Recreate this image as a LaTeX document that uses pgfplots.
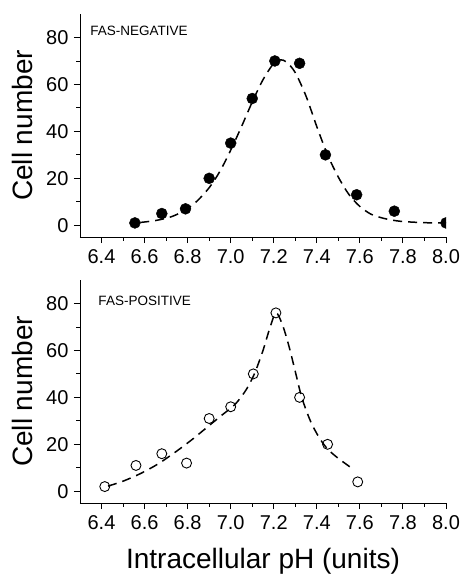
\documentclass[border=0pt]{standalone}
\usepackage{fontspec}
\setmainfont{Liberation Sans}
\usepackage{pgfplots}
\pgfplotsset{compat=1.18}

\pgfplotsset{
  phaxis/.style={
    scale only axis,
    width=366pt, height=223pt,
    axis x line*=bottom, axis y line*=left,
    axis line style={line width=0.9pt},
    xmin=6.3, xmax=8.0, ymin=-5, ymax=90,
    xtick={6.4,6.6,6.8,7.0,7.2,7.4,7.6,7.8,8.0},
    minor xtick={6.5,6.7,6.9,7.1,7.3,7.5,7.7,7.9},
    ytick={0,20,40,60,80},
    minor ytick={10,30,50,70},
    tick align=outside,
    major tick length=6pt, minor tick length=3.5pt,
    every tick/.style={black, line width=0.9pt},
    xticklabel style={/pgf/number format/fixed, /pgf/number format/precision=1,
      /pgf/number format/fixed zerofill, yshift=-3pt},
    yticklabel style={xshift=-2pt},
    /pgf/number format/assume math mode=true,
    tick label style={font=\fontsize{20}{23}\selectfont},
    label style={font=\fontsize{28}{32}\selectfont},
    ylabel={Cell number},
    ylabel style={at={(axis description cs:-0.157,0.5)}, anchor=center},
    clip marker paths=true,
  },
  fitline/.style={black, line width=1.5pt, dash pattern=on 9pt off 6pt, no markers, smooth},
}
\tikzset{tag/.style={anchor=west, inner sep=0pt, font=\fontsize{13.5}{15}\selectfont}}

\begin{document}
\begin{tikzpicture}
\path[use as bounding box] (-80pt,-339pt) rectangle (383pt,237pt);

% FAS-negative
\begin{axis}[phaxis]
\addplot[fitline] coordinates {
(6.58,1.2) (6.65,2.0) (6.72,3.5) (6.78,6.0) (6.84,10) (6.90,16) (6.95,23)
(7.00,32) (7.05,42) (7.10,52.5) (7.15,62) (7.20,69) (7.23,70.5) (7.26,69.5)
(7.30,65) (7.35,55) (7.40,42) (7.45,30) (7.50,20.5) (7.55,13) (7.60,8)
(7.65,4.8) (7.70,3.2) (7.75,2.2) (7.80,1.6) (7.90,1.1) (8.00,1.0)
};
\addplot[only marks, mark=*, mark size=5.5pt, black] coordinates {
(6.555,1) (6.68,5) (6.79,7) (6.90,20) (7.00,35) (7.10,54) (7.205,70)
(7.32,69) (7.44,30) (7.585,13) (7.76,6) (8.00,1)
};
\node[tag] at (axis cs:6.347,83) {FAS-NEGATIVE};
\end{axis}

% FAS-positive
\begin{axis}[phaxis, at={(0,-266pt)},
  xlabel={Intracellular pH (units)},
  xlabel style={at={(axis description cs:0.5,0)}, anchor=base, yshift=-65pt}]
\addplot[fitline] coordinates {
(6.43,2.2) (6.50,4.3) (6.58,7.5) (6.66,11.5) (6.74,16.5) (6.82,22) (6.90,28)
(6.96,32.5) (7.02,37) (7.07,43) (7.11,50) (7.15,60) (7.18,69) (7.21,76)
(7.24,71) (7.27,62) (7.30,51) (7.33,40) (7.37,30) (7.41,23) (7.45,18)
(7.50,14) (7.56,10)
};
\addplot[only marks, mark=o, mark size=5pt, black, line width=0.9pt] coordinates {
(6.415,2) (6.56,11) (6.68,16) (6.795,12) (6.90,31) (7.00,36) (7.105,50)
(7.21,76) (7.32,40) (7.45,20) (7.59,4)
};
\node[tag] at (axis cs:6.385,81) {FAS-POSITIVE};
\end{axis}
\end{tikzpicture}
\end{document}
